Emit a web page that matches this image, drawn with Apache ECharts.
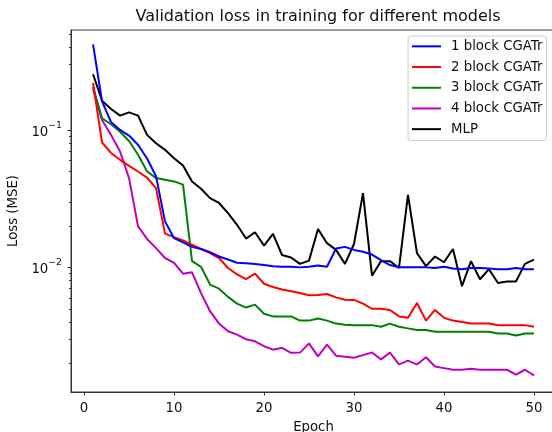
<!DOCTYPE html>
<html>
<head>
<meta charset="utf-8">
<script src="https://cdn.jsdelivr.net/npm/echarts@6/dist/echarts.min.js"></script>
<style>
  html, body { margin: 0; padding: 0; background: #fff; }
  #chart { width: 552px; height: 432px; }
</style>
</head>
<body>
<div id="chart"></div>
<script>
const epochs = [1, 2, 3, 4, 5, 6, 7, 8, 9, 10, 11, 12, 13, 14, 15, 16, 17, 18, 19, 20,
  21, 22, 23, 24, 25, 26, 27, 28, 29, 30, 31, 32, 33, 34, 35, 36, 37, 38, 39, 40,
  41, 42, 43, 44, 45, 46, 47, 48, 49, 50]

const seriesNames = ['1 block CGATr', '2 block CGATr', '3 block CGATr', '4 block CGATr', 'MLP']
const seriesColors = ['#0000ff', '#ff0000', '#008000', '#bf00bf', '#000000']

const block1 = [0.419, 0.161, 0.114, 0.1, 0.091, 0.078, 0.062, 0.046, 0.0216, 0.0163,
  0.0152, 0.0141, 0.0136, 0.0129, 0.012, 0.0114, 0.0108, 0.0107, 0.0106, 0.0104,
  0.0102, 0.0101, 0.0101, 0.01, 0.0101, 0.0103, 0.0101, 0.0137, 0.0141, 0.0134,
  0.013, 0.0124, 0.0113, 0.0104, 0.01, 0.01, 0.01, 0.01, 0.0099, 0.0101,
  0.0098, 0.0097, 0.0099, 0.0099, 0.0098, 0.0097, 0.0097, 0.0099, 0.0097, 0.0097]

const block2 = [0.22, 0.081, 0.068, 0.0606, 0.0548, 0.0498, 0.045, 0.0377, 0.0176, 0.0166,
  0.0157, 0.0146, 0.0136, 0.0127, 0.0117, 0.0099, 0.0089, 0.0082, 0.009, 0.0076,
  0.0072, 0.0069, 0.0067, 0.0065, 0.00626, 0.0063, 0.0064, 0.00605, 0.00582, 0.0058,
  0.00545, 0.005, 0.005, 0.0049, 0.0044, 0.0043, 0.0055, 0.0041, 0.0049, 0.0043,
  0.0041, 0.004, 0.0039, 0.0039, 0.0039, 0.0038, 0.0038, 0.0038, 0.0038, 0.0037]

const block3 = [0.205, 0.1216, 0.11, 0.097, 0.083, 0.066, 0.05, 0.0446, 0.0434, 0.0422,
  0.04, 0.0111, 0.0101, 0.0075, 0.007, 0.0061, 0.00545, 0.0051, 0.00536, 0.0046,
  0.0044, 0.0044, 0.0044, 0.0041, 0.0041, 0.00425, 0.0041, 0.0039, 0.00383, 0.0038,
  0.0038, 0.0038, 0.0037, 0.0039, 0.0037, 0.0036, 0.0035, 0.0035, 0.0034, 0.0034,
  0.0034, 0.0034, 0.0034, 0.0034, 0.0034, 0.0033, 0.0033, 0.0032, 0.0033, 0.0033]

const block4 = [0.198, 0.118, 0.092, 0.0696, 0.0446, 0.0199, 0.0161, 0.0138, 0.0117, 0.0108,
  0.009, 0.0092, 0.0065, 0.0048, 0.0039, 0.00343, 0.00324, 0.003, 0.0029, 0.00267,
  0.00252, 0.0026, 0.00239, 0.0024, 0.0028, 0.00225, 0.00274, 0.00228, 0.00224, 0.0022,
  0.0023, 0.0024, 0.00214, 0.0024, 0.00197, 0.0021, 0.00197, 0.00222, 0.0019, 0.00185,
  0.0018, 0.0018, 0.00183, 0.0018, 0.0018, 0.0018, 0.0018, 0.00166, 0.0018, 0.00164]

const mlp = [0.254, 0.163, 0.142, 0.127, 0.134, 0.127, 0.092, 0.08, 0.0716, 0.0622,
  0.055, 0.0421, 0.0373, 0.0319, 0.0294, 0.0248, 0.0204, 0.0162, 0.018, 0.0144,
  0.0175, 0.0123, 0.0118, 0.0106, 0.0112, 0.019, 0.015, 0.0134, 0.0106, 0.0148,
  0.0347, 0.0087, 0.0111, 0.0111, 0.0099, 0.0337, 0.0127, 0.0102, 0.012, 0.0109,
  0.0136, 0.0073, 0.0111, 0.0082, 0.0097, 0.0077, 0.0079, 0.0079, 0.0106, 0.0114]

const xTicks = [0, 10, 20, 30, 40, 50]
const yMajorTicks = [0.01, 0.1]
const yMinorTicks = [0.002, 0.003, 0.004, 0.005, 0.006, 0.007, 0.008, 0.009,
  0.02, 0.03, 0.04, 0.05, 0.06, 0.07, 0.08, 0.09, 0.2, 0.3, 0.4, 0.5]

const allValues = [block1, block2, block3, block4, mlp]
const font = 'DejaVu Sans'
const axisColor = '#333'

const chart = echarts.init(document.getElementById('chart'))

const yBase = {
  type: 'log',
  logBase: 10,
  min: 0.00124,
  max: 0.533,
  position: 'left',
  splitLine: { show: false },
  minorTick: { show: false },
  minorSplitLine: { show: false }
}

const option = {
  backgroundColor: '#fff',
  animation: false,
  title: {
    text: 'Validation loss in training for different models',
    left: 313,
    top: 4,
    textAlign: 'center',
    textStyle: { fontFamily: font, fontSize: 16, fontWeight: 'normal', color: '#111' }
  },
  grid: {
    left: 71,
    top: 30,
    width: 485,
    height: 362,
    outerBoundsMode: 'none',
    containLabel: false,
    show: true,
    borderColor: axisColor,
    borderWidth: 1,
    backgroundColor: 'transparent'
  },
  legend: {
    orient: 'vertical',
    left: 408,
    top: 36,
    data: seriesNames,
    icon: 'rect',
    itemWidth: 29,
    itemHeight: 2,
    itemGap: 0,
    padding: [0, 4, 1, 4],
    backgroundColor: '#fff',
    borderColor: '#ccc',
    borderWidth: 1,
    borderRadius: 3,
    textStyle: {
      fontFamily: font, fontSize: 13.3, color: '#111',
      lineHeight: 20.7, padding: [0, 0, 0, 5]
    }
  },
  xAxis: {
    type: 'value',
    min: -1.45,
    max: 52.45,
    name: 'Epoch',
    nameLocation: 'middle',
    nameGap: 29,
    nameTextStyle: { fontFamily: font, fontSize: 13.3, color: '#111' },
    splitLine: { show: false },
    axisLine: { onZero: false, lineStyle: { color: axisColor, width: 1 } },
    axisTick: { customValues: xTicks, length: 3.5, lineStyle: { color: axisColor } },
    axisLabel: {
      customValues: xTicks,
      margin: 10,
      fontFamily: font,
      fontSize: 13.3,
      color: '#111'
    }
  },
  yAxis: [
    Object.assign({}, yBase, {
      name: 'Loss (MSE)',
      nameLocation: 'middle',
      nameGap: 48,
      nameTextStyle: { fontFamily: font, fontSize: 13.3, color: '#111' },
      axisLine: { show: true, onZero: false, lineStyle: { color: axisColor, width: 1 } },
      axisTick: { customValues: yMajorTicks, length: 3.5, lineStyle: { color: axisColor } },
      axisLabel: {
        customValues: yMajorTicks,
        margin: 9,
        fontFamily: font,
        color: '#111',
        formatter: (v) => '{b|10}{s|\u2212' + Math.round(-Math.log10(v)) + '}',
        rich: {
          b: { fontFamily: font, fontSize: 13.3, color: '#111', verticalAlign: 'bottom', lineHeight: 18 },
          s: { fontFamily: font, fontSize: 9.3, color: '#111', verticalAlign: 'top', lineHeight: 18 }
        }
      }
    }),
    Object.assign({}, yBase, {
      axisLine: { show: false, onZero: false },
      axisTick: { customValues: yMinorTicks, length: 2, lineStyle: { color: axisColor } },
      axisLabel: { show: false }
    })
  ],
  series: seriesNames.map((name, i) => ({
    name,
    type: 'line',
    xAxisIndex: 0,
    yAxisIndex: 0,
    symbol: 'none',
    data: epochs.map((e, j) => [e, allValues[i][j]]),
    lineStyle: { color: seriesColors[i], width: 2 },
    itemStyle: { color: seriesColors[i] },
    z: 10 - i
  }))
}

chart.setOption(option)
</script>
</body>
</html>
